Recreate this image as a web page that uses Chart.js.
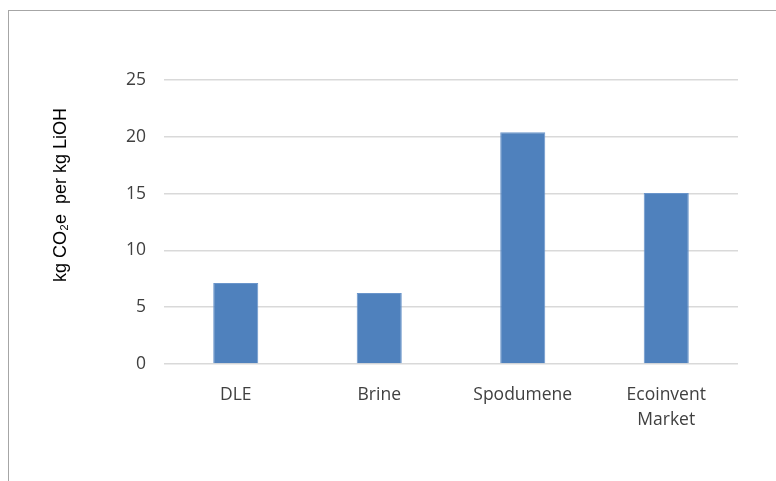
<!DOCTYPE html>
<html>
<head>
<meta charset="utf-8">
<script src="https://cdn.jsdelivr.net/npm/chart.js@4/dist/chart.umd.min.js"></script>
<style>
  html, body { margin: 0; padding: 0; background: #fff; overflow: hidden; }
  #wrap { position: relative; width: 776px; height: 481px; }
  #frame { position: absolute; left: 8px; top: 10px; width: 800px; height: 500px;
           border-top: 1px solid #a6a6a6; border-left: 1px solid #a6a6a6; pointer-events: none; }
  canvas { position: absolute; left: 0; top: 0; }
</style>
</head>
<body>
<div id="wrap">
  <canvas id="c" width="776" height="481"></canvas>
  <div id="frame"></div>
</div>
<script>
const categories = [["DLE"], ["Brine"], ["Spodumene"], ["Ecoinvent", "Market"]];
const values = [7.13, 6.25, 20.4, 15.05];
const yTicks = [0, 5, 10, 15, 20, 25];
const yTitle = "kg CO\u2082e  per kg LiOH";

const titlePlugin = {
  id: 'yTitle',
  afterDraw(chart) {
    const ctx = chart.ctx;
    ctx.save();
    ctx.translate(61, 195);
    ctx.rotate(-Math.PI / 2);
    ctx.font = '18px "Liberation Sans", Arial, sans-serif';
    ctx.fillStyle = '#000';
    ctx.textAlign = 'center';
    ctx.textBaseline = 'middle';
    ctx.fillText(yTitle, 0, 0);
    ctx.restore();
  }
};

new Chart(document.getElementById('c'), {
  type: 'bar',
  data: {
    labels: categories,
    datasets: [{
      data: values,
      backgroundColor: '#4f81bd',
      borderColor: '#6a95cb',
      borderWidth: 1,
      barPercentage: 1,
      categoryPercentage: 0.314
    }]
  },
  options: {
    responsive: false,
    animation: false,
    devicePixelRatio: 1,
    layout: { padding: { top: 80, right: 38, left: 0, bottom: 0 } },
    plugins: { legend: { display: false }, tooltip: { enabled: false } },
    scales: {
      x: {
        grid: { display: false, drawTicks: false },
        border: { display: false },
        ticks: {
          color: '#404040',
          font: { family: '"Open Sans"', size: 17.5, lineHeight: 1.45 },
          padding: 18,
          maxRotation: 0,
          autoSkip: false
        },
        afterFit(s) { s.height = 481 - 364; }
      },
      y: {
        min: 0, max: 25,
        afterBuildTicks(s) { s.ticks = yTicks.map(v => ({ value: v })); },
        grid: { color: '#d9d9d9', lineWidth: 1.5, drawTicks: false },
        border: { display: false },
        ticks: {
          color: '#404040',
          font: { family: '"Open Sans"', size: 17.5 },
          padding: 18
        },
        afterFit(s) { s.width = 164; }
      }
    }
  },
  plugins: [titlePlugin]
});
</script>
</body>
</html>
